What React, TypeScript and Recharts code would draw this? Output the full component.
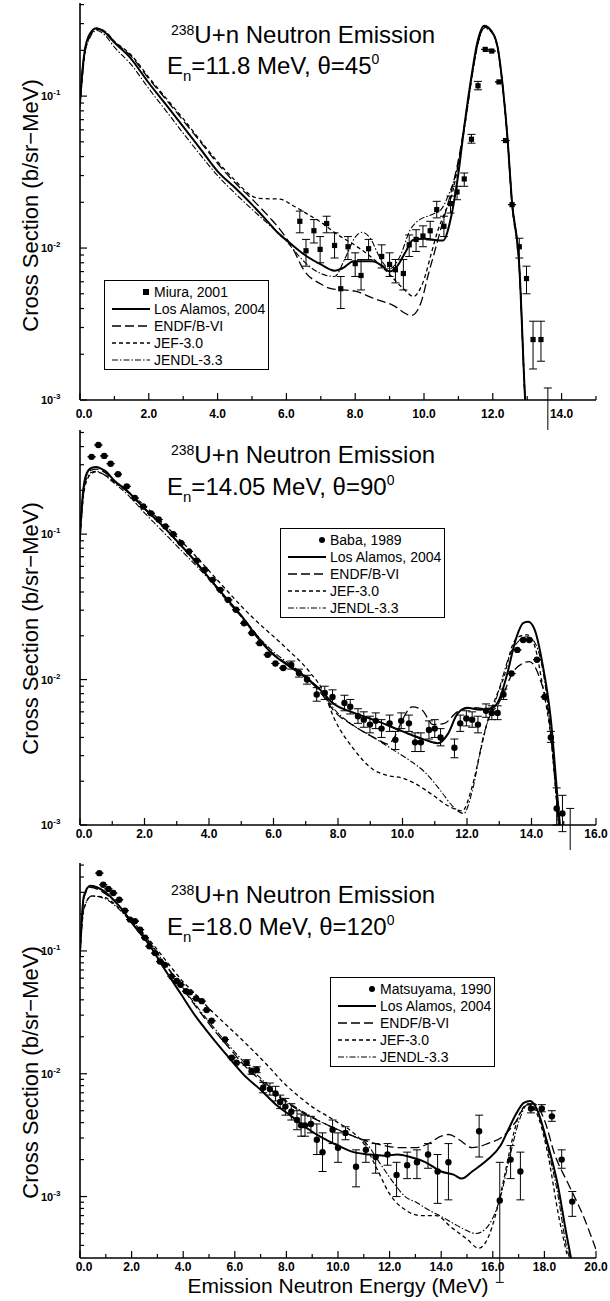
import React from 'react';
import { ComposedChart, Line, Scatter, ErrorBar, XAxis, YAxis, Legend } from 'recharts';

type P = [number, number];
type E = [number, number, number, number]; // x, y, low, high

// ---------- panel 1: En = 11.8 MeV, theta = 45
const miura2001: E[] = [
  [6.39, 0.015, 0.0126, 0.0175], [6.57, 0.0096, 0.0076, 0.0114], [6.8, 0.013, 0.0108, 0.0154],
  [6.98, 0.0098, 0.008, 0.0119], [7.17, 0.0145, 0.0126, 0.0162], [7.4, 0.0104, 0.0086, 0.0126],
  [7.58, 0.0054, 0.004, 0.0065], [7.79, 0.0102, 0.0084, 0.0119], [8.0, 0.0079, 0.0065, 0.0093],
  [8.17, 0.0066, 0.0053, 0.0084], [8.39, 0.0099, 0.0084, 0.0114], [8.77, 0.0088, 0.0074, 0.0105],
  [9.0, 0.0078, 0.0065, 0.0093], [9.17, 0.0072, 0.0059, 0.0084], [9.4, 0.0068, 0.0053, 0.0084],
  [9.57, 0.0105, 0.0088, 0.0122], [9.77, 0.0114, 0.0095, 0.0132], [9.97, 0.012, 0.0102, 0.014],
  [10.18, 0.013, 0.0113, 0.015], [10.37, 0.0179, 0.0158, 0.0203], [10.58, 0.0139, 0.0119, 0.0162],
  [10.77, 0.0196, 0.017, 0.022], [10.96, 0.0234, 0.0208, 0.0255], [11.17, 0.0285, 0.0255, 0.0312],
  [11.38, 0.052, 0.049, 0.056], [11.57, 0.117, 0.11, 0.125], [11.78, 0.203, 0.203, 0.203],
  [11.97, 0.198, 0.198, 0.198], [12.18, 0.124, 0.124, 0.124], [12.37, 0.051, 0.051, 0.051],
  [12.56, 0.0193, 0.0193, 0.0193], [12.77, 0.0102, 0.0086, 0.0116], [12.98, 0.0063, 0.005, 0.0076],
  [13.17, 0.0025, 0.0016, 0.0033], [13.4, 0.0025, 0.0018, 0.0033], [13.6, 0.0007, 0.0003, 0.0012],
];
const lanl1: P[] = [
  [0, 0.09], [0.05, 0.13], [0.14, 0.2], [0.3, 0.26], [0.48, 0.28], [0.7, 0.265], [1.0, 0.225],
  [1.45, 0.18], [2.0, 0.122], [2.5, 0.088], [3.0, 0.063], [3.5, 0.045], [4.0, 0.032], [4.5, 0.025],
  [5.0, 0.0193], [5.45, 0.015], [5.75, 0.0126], [6.1, 0.0108], [6.6, 0.0088], [7.0, 0.0078],
  [7.4, 0.0071], [7.65, 0.0074], [7.95, 0.0082], [8.5, 0.0082], [8.8, 0.0076], [9.0, 0.007],
  [9.22, 0.0076], [9.45, 0.0093], [9.68, 0.0113], [10.0, 0.0115], [10.55, 0.0112], [10.8, 0.0165],
  [11.0, 0.031], [11.17, 0.063], [11.38, 0.135], [11.55, 0.225], [11.75, 0.29], [11.95, 0.27],
  [12.14, 0.21], [12.3, 0.11], [12.43, 0.052], [12.55, 0.021], [12.77, 0.0076], [12.94, 0.001],
  [13.05, 0.0004],
];
const endf1: P[] = [
  [0, 0.09], [0.05, 0.13], [0.14, 0.2], [0.3, 0.255], [0.48, 0.278], [0.7, 0.27], [1.0, 0.228],
  [1.5, 0.182], [2.0, 0.13], [2.5, 0.095], [3.0, 0.069], [3.5, 0.05], [4.0, 0.036], [4.5, 0.027],
  [5.0, 0.021], [5.5, 0.016], [5.9, 0.0125], [6.2, 0.0098], [6.5, 0.0072], [7.0, 0.0058],
  [7.3, 0.0054], [8.0, 0.0052], [8.5, 0.0047], [9.1, 0.0042], [9.63, 0.0036], [9.9, 0.0043],
  [10.14, 0.0069], [10.3, 0.0093], [10.55, 0.015], [10.8, 0.024], [11.0, 0.038], [11.2, 0.07],
  [11.4, 0.14], [11.58, 0.23], [11.75, 0.285], [11.95, 0.27], [12.14, 0.21], [12.3, 0.11],
  [12.43, 0.052], [12.55, 0.021], [12.77, 0.0076], [12.94, 0.001], [13.05, 0.0004],
];
const jef1: P[] = [
  [0, 0.09], [0.05, 0.12], [0.14, 0.19], [0.3, 0.25], [0.48, 0.275], [0.7, 0.268], [1.0, 0.23],
  [1.5, 0.185], [2.0, 0.133], [2.5, 0.097], [3.0, 0.071], [3.5, 0.051], [4.0, 0.037], [4.5, 0.028],
  [5.0, 0.022], [5.2, 0.0212], [5.8, 0.021], [6.2, 0.019], [6.6, 0.0168], [7.0, 0.0148],
  [7.5, 0.0122], [8.0, 0.0104], [8.5, 0.0086], [9.0, 0.0067], [9.4, 0.0054], [9.7, 0.0048],
  [9.85, 0.0052], [10.0, 0.0062], [10.2, 0.009], [10.4, 0.013], [10.6, 0.017], [10.8, 0.022],
  [11.0, 0.036], [11.2, 0.068], [11.4, 0.14], [11.58, 0.23], [11.75, 0.285], [11.95, 0.27],
  [12.14, 0.21], [12.3, 0.11], [12.43, 0.052], [12.55, 0.021], [12.77, 0.0076], [12.94, 0.001],
  [13.05, 0.0004],
];
const jendl1: P[] = [
  [0, 0.085], [0.05, 0.12], [0.14, 0.19], [0.3, 0.245], [0.48, 0.27], [0.7, 0.255], [1.0, 0.21],
  [1.5, 0.16], [2.0, 0.112], [2.5, 0.08], [3.0, 0.057], [3.5, 0.041], [4.0, 0.03], [4.5, 0.023],
  [5.0, 0.018], [5.5, 0.0142], [5.9, 0.0118], [6.2, 0.0098], [6.6, 0.0078], [7.0, 0.0068],
  [7.4, 0.0065], [7.7, 0.0085], [8.0, 0.0118], [8.2, 0.0127], [8.45, 0.0115], [8.7, 0.0088],
  [9.0, 0.0073], [9.3, 0.0088], [9.6, 0.0132], [9.9, 0.0155], [10.2, 0.0165], [10.5, 0.018],
  [10.7, 0.022], [11.0, 0.036], [11.2, 0.066], [11.4, 0.135], [11.58, 0.225], [11.75, 0.28],
  [11.95, 0.265], [12.14, 0.205], [12.3, 0.105], [12.43, 0.05], [12.55, 0.02], [12.77, 0.0072],
  [12.94, 0.001], [13.05, 0.0004],
];

// ---------- panel 2: En = 14.05 MeV, theta = 90
const baba1989: E[] = [
  [0.36, 0.34, 0.34, 0.34], [0.57, 0.41, 0.41, 0.41], [0.75, 0.345, 0.345, 0.345], [0.95, 0.305, 0.305, 0.305],
  [1.18, 0.258, 0.258, 0.258], [1.45, 0.213, 0.213, 0.213], [1.7, 0.177, 0.177, 0.177],
  [1.96, 0.155, 0.155, 0.155], [2.2, 0.139, 0.139, 0.139], [2.44, 0.126, 0.126, 0.126],
  [2.65, 0.113, 0.113, 0.113], [2.89, 0.1, 0.1, 0.1], [3.13, 0.087, 0.087, 0.087],
  [3.38, 0.076, 0.076, 0.076], [3.62, 0.066, 0.066, 0.066], [3.87, 0.057, 0.057, 0.057],
  [4.11, 0.0485, 0.0485, 0.0485], [4.35, 0.0414, 0.0414, 0.0414], [4.6, 0.0353, 0.0353, 0.0353],
  [4.84, 0.0302, 0.0302, 0.0302], [5.09, 0.0244, 0.0244, 0.0244], [5.33, 0.0209, 0.0209, 0.0209],
  [5.57, 0.0178, 0.0178, 0.0178], [5.82, 0.0148, 0.0148, 0.0148], [6.06, 0.0129, 0.0129, 0.0129],
  [6.3, 0.012, 0.012, 0.012], [6.55, 0.0126, 0.0118, 0.0134], [6.79, 0.0111, 0.0104, 0.0118],
  [7.04, 0.01, 0.0093, 0.0107], [7.34, 0.0079, 0.0071, 0.0088], [7.59, 0.0081, 0.0073, 0.009],
  [7.83, 0.0076, 0.0068, 0.0085], [8.2, 0.0069, 0.0061, 0.0078], [8.38, 0.0065, 0.0058, 0.0073],
  [8.62, 0.0056, 0.005, 0.0063], [8.8, 0.0053, 0.0047, 0.006], [8.99, 0.0049, 0.0043, 0.0056],
  [9.17, 0.0052, 0.0046, 0.0059], [9.35, 0.0046, 0.004, 0.0053], [9.6, 0.005, 0.0044, 0.0057],
  [9.78, 0.00385, 0.0033, 0.0044], [9.96, 0.0052, 0.0046, 0.0059], [10.2, 0.005, 0.0044, 0.0057],
  [10.39, 0.0037, 0.0032, 0.0043], [10.57, 0.0037, 0.0032, 0.0043], [10.82, 0.0045, 0.0039, 0.0052],
  [11.0, 0.0046, 0.004, 0.0053], [11.18, 0.004, 0.0035, 0.0046], [11.61, 0.0034, 0.0029, 0.0039],
  [11.79, 0.005, 0.0044, 0.0057], [11.98, 0.0054, 0.0048, 0.0061], [12.16, 0.0053, 0.0047, 0.006],
  [12.34, 0.0049, 0.0043, 0.0056], [12.59, 0.0061, 0.0055, 0.0068], [12.77, 0.0059, 0.0053, 0.0066],
  [12.95, 0.0059, 0.0053, 0.0066], [13.13, 0.0079, 0.0073, 0.0086], [13.38, 0.011, 0.011, 0.011],
  [13.56, 0.016, 0.016, 0.016], [13.74, 0.0187, 0.0187, 0.0187], [13.93, 0.0187, 0.0187, 0.0187],
  [14.17, 0.0137, 0.0137, 0.0137], [14.41, 0.0076, 0.0076, 0.0076], [14.6, 0.004, 0.0037, 0.0044],
  [14.78, 0.0013, 0.001, 0.0018], [14.96, 0.0012, 0.0009, 0.0016], [15.2, 0.0008, 0.0005, 0.0013],
];
const lanl2: P[] = [
  [0, 0.1], [0.1, 0.2], [0.2, 0.26], [0.35, 0.285], [0.5, 0.29], [0.65, 0.282], [0.8, 0.27],
  [1.05, 0.235], [1.5, 0.195], [2.0, 0.15], [2.5, 0.118], [3.0, 0.09], [3.5, 0.068], [4.0, 0.05],
  [4.5, 0.037], [5.0, 0.0275], [5.5, 0.0195], [6.0, 0.0148], [6.5, 0.0123], [7.0, 0.0103],
  [7.5, 0.0083], [7.8, 0.007], [8.5, 0.0059], [9.2, 0.0052], [10.0, 0.0044], [10.7, 0.00385],
  [11.1, 0.00365], [11.4, 0.0042], [11.7, 0.0058], [12.0, 0.0064], [12.4, 0.0062], [12.8, 0.0064],
  [13.0, 0.0073], [13.25, 0.011], [13.5, 0.0185], [13.75, 0.0245], [13.9, 0.025], [14.1, 0.022],
  [14.35, 0.0125], [14.6, 0.0053], [14.8, 0.0016], [14.92, 0.0008],
];
const endf2: P[] = [
  [0, 0.1], [0.1, 0.2], [0.2, 0.255], [0.35, 0.275], [0.5, 0.28], [0.65, 0.275], [0.8, 0.262],
  [1.05, 0.232], [1.5, 0.193], [2.0, 0.15], [2.5, 0.118], [3.0, 0.09], [3.5, 0.068], [4.0, 0.05],
  [4.5, 0.037], [5.0, 0.0275], [5.5, 0.02], [6.0, 0.015], [6.5, 0.0125], [7.0, 0.0104],
  [7.5, 0.0079], [7.9, 0.006], [8.5, 0.0048], [9.2, 0.0039], [9.55, 0.0036], [9.75, 0.004],
  [10.0, 0.0053], [10.3, 0.0065], [10.6, 0.0062], [10.95, 0.0049], [11.3, 0.005], [11.7, 0.006],
  [12.2, 0.0064], [12.8, 0.0062], [13.1, 0.0077], [13.4, 0.011], [13.75, 0.013], [13.93, 0.0133],
  [14.25, 0.0103], [14.55, 0.0053], [14.84, 0.001], [14.95, 0.0005],
];
const jef2: P[] = [
  [0, 0.09], [0.1, 0.18], [0.2, 0.23], [0.35, 0.26], [0.5, 0.268], [0.7, 0.26], [1.0, 0.235],
  [1.5, 0.195], [2.0, 0.157], [2.5, 0.123], [3.0, 0.096], [3.5, 0.074], [4.0, 0.056], [4.35, 0.046],
  [5.0, 0.032], [5.33, 0.027], [6.3, 0.0172], [7.16, 0.011], [7.52, 0.0085], [7.9, 0.0053],
  [8.5, 0.0033], [9.1, 0.0024], [9.5, 0.0022], [10.0, 0.0021], [10.35, 0.00195], [10.95, 0.0016],
  [11.45, 0.00134], [11.85, 0.00125], [12.15, 0.0018], [12.4, 0.0031], [12.65, 0.0053], [12.9, 0.0076],
  [13.15, 0.0105], [13.4, 0.017], [13.6, 0.0197], [13.87, 0.0203], [14.1, 0.017], [14.35, 0.0089],
  [14.6, 0.004], [14.84, 0.001], [14.95, 0.0005],
];
const jendl2: P[] = [
  [0, 0.09], [0.1, 0.18], [0.2, 0.24], [0.35, 0.265], [0.5, 0.27], [0.7, 0.26], [1.0, 0.23],
  [1.5, 0.185], [2.0, 0.14], [2.5, 0.108], [3.0, 0.083], [3.5, 0.064], [4.0, 0.049], [4.5, 0.036],
  [5.0, 0.027], [5.5, 0.02], [6.0, 0.0155], [6.5, 0.0128], [7.0, 0.0105], [7.5, 0.0082],
  [7.9, 0.0062], [8.5, 0.0048], [9.1, 0.004], [9.7, 0.0033], [10.2, 0.0028], [10.7, 0.0023],
  [11.2, 0.0017], [11.55, 0.00135], [11.9, 0.0012], [12.16, 0.0017], [12.5, 0.004], [12.9, 0.0073],
  [13.4, 0.016], [13.87, 0.0197], [14.1, 0.018], [14.5, 0.0069], [14.84, 0.001], [14.95, 0.0005],
];

// ---------- panel 3: En = 18.0 MeV, theta = 120
const matsuyama1990: E[] = [
  [0.75, 0.43, 0.43, 0.43], [0.9, 0.346, 0.346, 0.346], [1.1, 0.32, 0.32, 0.32], [1.29, 0.296, 0.296, 0.296],
  [1.52, 0.261, 0.261, 0.261], [1.74, 0.213, 0.213, 0.213], [1.94, 0.18, 0.18, 0.18],
  [2.13, 0.175, 0.175, 0.175], [2.33, 0.149, 0.149, 0.149], [2.52, 0.128, 0.128, 0.128],
  [2.69, 0.109, 0.109, 0.109], [2.91, 0.096, 0.096, 0.096], [3.1, 0.082, 0.082, 0.082],
  [3.29, 0.077, 0.077, 0.077], [3.55, 0.062, 0.062, 0.062], [3.75, 0.057, 0.057, 0.057],
  [3.9, 0.053, 0.053, 0.053], [4.11, 0.047, 0.047, 0.047], [4.26, 0.046, 0.046, 0.046],
  [4.5, 0.041, 0.041, 0.041], [4.72, 0.039, 0.039, 0.039], [4.91, 0.033, 0.033, 0.033],
  [5.1, 0.027, 0.027, 0.027], [5.62, 0.019, 0.019, 0.019], [5.88, 0.0135, 0.0135, 0.0135],
  [6.07, 0.0123, 0.0123, 0.0123], [6.46, 0.0123, 0.0117, 0.013], [6.65, 0.0105, 0.0099, 0.0111],
  [6.85, 0.0108, 0.0102, 0.0114], [7.1, 0.0077, 0.007, 0.0085], [7.36, 0.0075, 0.0067, 0.0084],
  [7.58, 0.0069, 0.006, 0.0079], [7.76, 0.0059, 0.0052, 0.0067], [7.96, 0.0054, 0.0046, 0.0063],
  [8.19, 0.0049, 0.0042, 0.0057], [8.41, 0.0042, 0.0035, 0.005], [8.57, 0.0038, 0.0031, 0.0047],
  [8.72, 0.0038, 0.0031, 0.0046], [8.95, 0.0039, 0.0033, 0.0045], [9.18, 0.0029, 0.0022, 0.0039],
  [9.4, 0.0023, 0.0016, 0.0033], [9.79, 0.0035, 0.0027, 0.0042], [10.0, 0.0025, 0.0019, 0.0033],
  [10.29, 0.0033, 0.0029, 0.0037], [10.7, 0.00175, 0.0012, 0.0024], [11.08, 0.0024, 0.0019, 0.0029],
  [11.46, 0.0021, 0.00155, 0.0027], [11.92, 0.0022, 0.0018, 0.0027], [12.27, 0.0015, 0.001, 0.0019],
  [12.68, 0.0018, 0.0014, 0.0023], [13.06, 0.0019, 0.0014, 0.0024], [13.49, 0.0022, 0.0017, 0.0027],
  [13.86, 0.0016, 0.00088, 0.0022], [14.28, 0.0019, 0.00094, 0.0027], [15.47, 0.0034, 0.0021, 0.0046],
  [16.27, 0.00093, 0.0002, 0.0019], [16.69, 0.002, 0.0014, 0.0026], [17.07, 0.0016, 0.00094, 0.0023],
  [17.48, 0.0052, 0.0048, 0.0057], [17.9, 0.0052, 0.0049, 0.0056], [18.29, 0.0045, 0.0041, 0.005],
  [18.67, 0.002, 0.0017, 0.0024], [19.08, 0.00091, 0.00069, 0.0011],
];
const lanl3: P[] = [
  [0, 0.1], [0.15, 0.28], [0.4, 0.34], [0.9, 0.31], [1.5, 0.235], [2.1, 0.16], [2.7, 0.111],
  [3.3, 0.07], [3.9, 0.045], [4.5, 0.029], [5.1, 0.02], [5.75, 0.0137], [6.35, 0.0098], [7.0, 0.0074],
  [7.6, 0.0056], [8.2, 0.0045], [8.8, 0.0036], [9.4, 0.003], [10.0, 0.0026], [10.6, 0.0023],
  [11.2, 0.0022], [11.8, 0.00215], [12.3, 0.0022], [12.8, 0.0021], [13.4, 0.0019], [14.0, 0.0016],
  [14.5, 0.0015], [14.8, 0.0014], [15.2, 0.0016], [15.8, 0.002], [16.3, 0.0026], [16.6, 0.0035],
  [16.9, 0.0047], [17.2, 0.0058], [17.45, 0.006], [17.7, 0.0052], [18.1, 0.0028], [18.5, 0.0013],
  [18.85, 0.0005], [19.05, 0.0003],
];
const endf3: P[] = [
  [0, 0.1], [0.15, 0.27], [0.4, 0.33], [0.9, 0.3], [1.5, 0.235], [2.1, 0.165], [2.7, 0.118],
  [3.3, 0.078], [3.9, 0.052], [4.5, 0.035], [5.1, 0.024], [5.75, 0.0165], [6.35, 0.0118], [7.0, 0.0088],
  [7.6, 0.0068], [8.2, 0.0055], [8.8, 0.0046], [9.4, 0.004], [10.0, 0.0035], [10.6, 0.0031],
  [11.2, 0.0028], [11.8, 0.0026], [12.4, 0.0025], [13.0, 0.0025], [13.5, 0.0027], [14.0, 0.0031],
  [14.3, 0.0032], [14.7, 0.0029], [15.2, 0.0025], [15.8, 0.0027], [16.4, 0.0031], [16.9, 0.0041],
  [17.3, 0.0056], [17.6, 0.0057], [18.0, 0.0042], [18.4, 0.0022], [18.9, 0.0013], [19.5, 0.0007],
  [20.0, 0.00037],
];
const jef3: P[] = [
  [0, 0.09], [0.15, 0.22], [0.45, 0.28], [0.9, 0.275], [1.5, 0.225], [2.1, 0.168], [2.7, 0.122],
  [3.3, 0.085], [4.0, 0.056], [4.5, 0.044], [5.0, 0.034], [5.5, 0.027], [6.0, 0.0215], [6.66, 0.0158],
  [7.3, 0.0115], [7.9, 0.0084], [8.5, 0.0065], [9.1, 0.0052], [9.6, 0.0045], [10.0, 0.004],
  [10.6, 0.0033], [11.0, 0.0027], [11.5, 0.0017], [12.0, 0.00105], [12.6, 0.00078], [13.2, 0.0007],
  [13.8, 0.0007], [14.4, 0.00056], [15.0, 0.00045], [15.45, 0.00038], [15.85, 0.00048], [16.1, 0.0007],
  [16.4, 0.0013], [16.7, 0.0026], [17.0, 0.0045], [17.35, 0.0056], [17.65, 0.005], [18.1, 0.0024],
  [18.55, 0.0007], [18.9, 0.00032],
];
const jendl3: P[] = [
  [0, 0.09], [0.15, 0.22], [0.45, 0.28], [0.9, 0.27], [1.5, 0.22], [2.1, 0.16], [2.7, 0.115],
  [3.3, 0.078], [3.9, 0.053], [4.5, 0.036], [5.1, 0.025], [5.75, 0.0172], [6.35, 0.0125], [7.0, 0.0092],
  [7.6, 0.007], [8.2, 0.0056], [8.8, 0.0047], [9.4, 0.004], [10.0, 0.0035], [10.6, 0.0031],
  [11.1, 0.0027], [11.6, 0.0019], [12.15, 0.0013], [12.6, 0.001], [13.06, 0.00089], [13.5, 0.00078],
  [14.0, 0.00069], [14.5, 0.0006], [14.9, 0.00054], [15.35, 0.0005], [15.8, 0.00057], [16.27, 0.00095],
  [16.7, 0.0023], [17.03, 0.0042], [17.35, 0.0056], [17.65, 0.0052], [18.1, 0.0026], [18.5, 0.0011],
  [18.85, 0.0004], [19.0, 0.0003],
];

// ---------- axes
const xTicks1 = [0, 1, 2, 3, 4, 5, 6, 7, 8, 9, 10, 11, 12, 13, 14, 15];
const xLabels1 = [0, 2, 4, 6, 8, 10, 12, 14];
const xTicks2 = [0, 1, 2, 3, 4, 5, 6, 7, 8, 9, 10, 11, 12, 13, 14, 15, 16];
const xLabels2 = [0, 2, 4, 6, 8, 10, 12, 14, 16];
const xTicks3 = [0, 1, 2, 3, 4, 5, 6, 7, 8, 9, 10, 11, 12, 13, 14, 15, 16, 17, 18, 19, 20];
const xLabels3 = [0, 2, 4, 6, 8, 10, 12, 14, 16, 18, 20];
const yDecades = [0.0001, 0.001, 0.01, 0.1, 1];

const FONT = '"Liberation Sans", Arial, Helvetica, sans-serif';
const AXIS = { stroke: '#000', strokeWidth: 1.6 };

const toLine = (pts: P[]) => pts.map(([x, y]) => ({ x, y }));
const toPts = (pts: E[]) => pts.map(([x, y, lo, hi]) => ({ x, y, err: [y - lo, hi - y] }));

const logTicks = (lo: number, hi: number) => {
  const out: number[] = [];
  yDecades.forEach((d) => {
    for (let k = 1; k <= 9; k++) {
      const v = +(d * k).toPrecision(3);
      if (v >= lo * 0.999 && v <= hi * 1.001) out.push(v);
    }
  });
  return out;
};
const isDecade = (v: number) => Math.abs(Math.log10(v) - Math.round(Math.log10(v))) < 1e-6;

const LINE_STYLES = [
  { name: 'Los Alamos, 2004', dash: undefined as string | undefined, w: 2 },
  { name: 'ENDF/B-VI', dash: '9 4', w: 1.3 },
  { name: 'JEF-3.0', dash: '4 3', w: 1.3 },
  { name: 'JENDL-3.3', dash: '6 2 1.5 2', w: 1.1 },
];

type Cfg = {
  top: number; height: number; padTop: number; xAxisH: number; xMax: number;
  yMin: number; yMax: number; xTicks: number[]; xLabels: number[]; tickDy: number;
  exp: E[]; expName: string; marker: 'square' | 'circle';
  curves: P[][]; legendX: number; legendY: number;
  line1Y: number; line2Y: number; line2: string; angle: string; yLabelShift: number; xTitle?: string;
};

const panels: Cfg[] = [
  {
    top: 0, height: 430, padTop: 3, xAxisH: 30, xMax: 15, yMin: 0.001, yMax: 0.41, tickDy: 18,
    xTicks: xTicks1, xLabels: xLabels1, exp: miura2001, expName: 'Miura, 2001', marker: 'square',
    curves: [lanl1, endf1, jef1, jendl1], legendX: 104, legendY: 280,
    line1Y: 43, line2Y: 74, line2: '=11.8 MeV, \u03b8=45', angle: '0', yLabelShift: 4,
  },
  {
    top: 420, height: 430, padTop: 10, xAxisH: 25, xMax: 16, yMin: 0.001, yMax: 0.52, tickDy: 13,
    xTicks: xTicks2, xLabels: xLabels2, exp: baba1989, expName: 'Baba, 1989', marker: 'circle',
    curves: [lanl2, endf2, jef2, jendl2], legendX: 280, legendY: 108,
    line1Y: 43, line2Y: 75, line2: '=14.05 MeV, \u03b8=90', angle: '0', yLabelShift: 1,
  },
  {
    top: 850, height: 451, padTop: 13, xAxisH: 43, xMax: 20, yMin: 0.000316, yMax: 0.52, tickDy: 13,
    xTicks: xTicks3, xLabels: xLabels3, exp: matsuyama1990, expName: 'Matsuyama, 1990', marker: 'circle',
    curves: [lanl3, endf3, jef3, jendl3], legendX: 330, legendY: 127,
    line1Y: 53, line2Y: 85, line2: '=18.0 MeV, \u03b8=120', angle: '0', yLabelShift: 12,
    xTitle: 'Emission Neutron Energy (MeV)',
  },
];

function LegendBox({ c }: { c: Cfg }) {
  const row: React.CSSProperties = { display: 'flex', alignItems: 'center', height: 17, whiteSpace: 'nowrap' };
  return (
    <div style={{ display: 'inline-block', border: '1.5px solid #000', background: '#fff', padding: '2px 3px 1px 7px', fontFamily: FONT, fontSize: 14, color: '#000' }}>
      <div style={row}>
        <svg width={38} height={10}>
          {c.marker === 'square'
            ? <rect x={31} y={2} width={6} height={6} fill="#000" />
            : <circle cx={34} cy={5} r={3} fill="#000" />}
        </svg>
        <span style={{ marginLeft: 4 }}>{c.expName}</span>
      </div>
      {LINE_STYLES.map((s) => (
        <div key={s.name} style={row}>
          <svg width={38} height={10}>
            <line x1={0} x2={38} y1={5} y2={5} stroke="#000" strokeWidth={s.w} strokeDasharray={s.dash} />
          </svg>
          <span style={{ marginLeft: 4 }}>{s.name}</span>
        </div>
      ))}
    </div>
  );
}

function Panel({ c }: { c: Cfg }) {
  const yTicks = logTicks(c.yMin, c.yMax);
  const pts = toPts(c.exp);
  const isMajorX = (v: number) => c.xLabels.includes(v);

  const bottomTick = (p: any) => {
    const v = p.payload.value;
    const major = isMajorX(v);
    return (
      <g>
        <line x1={p.x} x2={p.x} y1={p.y} y2={p.y - (major ? 7 : 4)} stroke="#000" strokeWidth={1.2} />
        {major && (
          <text x={v === 0 ? p.x + 4 : p.x} y={p.y + c.tickDy} textAnchor="middle" fontSize={12} fontWeight="bold" fontFamily={FONT} fill="#000">
            {v.toFixed(1)}
          </text>
        )}
      </g>
    );
  };
  const topTick = (p: any) => {
    const major = isMajorX(p.payload.value);
    return <line x1={p.x} x2={p.x} y1={p.y} y2={p.y + (major ? 7 : 4)} stroke="#000" strokeWidth={1.2} />;
  };
  const leftTick = (p: any) => {
    const v = p.payload.value;
    const major = isDecade(v);
    return (
      <g>
        <line x1={p.x} x2={p.x + (major ? 7 : 4)} y1={p.y} y2={p.y} stroke="#000" strokeWidth={1.2} />
        {major && (
          <text x={p.x - 39} y={p.y + 4} fontSize={11} fontWeight="bold" fontFamily={FONT} fill="#000">
            10<tspan dy={-5} fontSize={8}>-{Math.round(-Math.log10(v))}</tspan>
          </text>
        )}
      </g>
    );
  };
  const rightTick = (p: any) => {
    const major = isDecade(p.payload.value);
    return <line x1={p.x} x2={p.x - (major ? 7 : 4)} y1={p.y} y2={p.y} stroke="#000" strokeWidth={1.2} />;
  };

  const yLabel = (p: any) => {
    const vb = p.viewBox || { x: 0, y: 0, width: 80, height: 400 };
    const cx = vb.x + 38;
    const cy = vb.y + vb.height / 2 + c.yLabelShift;
    return (
      <text x={cx} y={cy} transform={`rotate(-90 ${cx} ${cy})`} textAnchor="middle" fontSize={22} fontFamily={FONT} fill="#000">
        Cross Section (b/sr{'\u2212'}MeV)
      </text>
    );
  };
  const xLabel = (p: any) => {
    const vb = p.viewBox || { x: 80, y: 0, width: 516, height: 43 };
    return (
      <text x={vb.x + vb.width / 2} y={vb.y + 35} textAnchor="middle" fontSize={21} fontFamily={FONT} fill="#000">
        {c.xTitle}
      </text>
    );
  };

  return (
    <div style={{ position: 'absolute', left: 0, top: c.top, width: 610, height: c.height }}>
      <ComposedChart width={610} height={c.height} margin={{ top: c.padTop, right: 14, bottom: 0, left: 0 }}>
        <XAxis
          xAxisId="b" type="number" dataKey="x" domain={[0, c.xMax]} allowDataOverflow
          ticks={c.xTicks} interval={0} height={c.xAxisH} tickSize={0} tickMargin={0}
          tickLine={false} axisLine={AXIS} tick={bottomTick}
          label={c.xTitle ? xLabel : undefined}
        />
        <XAxis
          xAxisId="t" orientation="top" type="number" dataKey="x" domain={[0, c.xMax]} allowDataOverflow
          ticks={c.xTicks} interval={0} height={0} tickSize={0} tickMargin={0}
          tickLine={false} axisLine={AXIS} tick={topTick}
        />
        <YAxis
          yAxisId="l" type="number" dataKey="y" scale="log" domain={[c.yMin, c.yMax]} allowDataOverflow
          ticks={yTicks} interval={0} width={80} tickSize={0} tickMargin={0}
          tickLine={false} axisLine={AXIS} tick={leftTick} label={yLabel}
        />
        <YAxis
          yAxisId="r" orientation="right" type="number" dataKey="y" scale="log" domain={[c.yMin, c.yMax]} allowDataOverflow
          ticks={yTicks} interval={0} width={0} tickSize={0} tickMargin={0}
          tickLine={false} axisLine={AXIS} tick={rightTick}
        />
        {c.curves.map((curve, i) => (
          <Line
            key={LINE_STYLES[i].name}
            xAxisId="b" yAxisId="l" data={toLine(curve)} dataKey="y" type="monotone"
            stroke="#000" strokeWidth={LINE_STYLES[i].w} strokeDasharray={LINE_STYLES[i].dash}
            dot={false} activeDot={false} isAnimationActive={false} legendType="none"
          />
        ))}
        <Scatter
          xAxisId="b" yAxisId="l" data={pts} dataKey="y" isAnimationActive={false} legendType="none"
          shape={(p: any) =>
            c.marker === 'square'
              ? <rect x={p.cx - 2.6} y={p.cy - 2.6} width={5.2} height={5.2} fill="#000" />
              : <circle cx={p.cx} cy={p.cy} r={3.2} fill="#000" />
          }
        >
          <ErrorBar dataKey="err" direction="y" width={4} stroke="#000" strokeWidth={1} isAnimationActive={false} />
        </Scatter>
        <Legend
          layout="horizontal" verticalAlign="middle" align="center"
          wrapperStyle={{ left: c.legendX, top: c.legendY, width: 'auto', height: 'auto' }}
          content={() => <LegendBox c={c} />}
        />
      </ComposedChart>
      <svg width={610} height={c.height} style={{ position: 'absolute', left: 0, top: 0, pointerEvents: 'none' }}>
        <text x={171} y={c.line1Y} fontFamily={FONT} fill="#000">
          <tspan fontSize={14} dy={-8}>238</tspan>
          <tspan fontSize={24} dy={8}>U+n Neutron Emission</tspan>
        </text>
        <text x={167} y={c.line2Y} fontFamily={FONT} fill="#000" fontSize={24}>
          E<tspan fontSize={15} dy={7}>n</tspan>
          <tspan dy={-7}>{c.line2}</tspan>
          <tspan fontSize={14} dy={-10}>{c.angle}</tspan>
        </text>
      </svg>
    </div>
  );
}

export default function App() {
  return (
    <div style={{ position: 'absolute', left: 0, top: 0, width: 610, height: 1301, background: '#fff' }}>
      {panels.map((c) => (
        <Panel key={c.expName} c={c} />
      ))}
    </div>
  );
}
